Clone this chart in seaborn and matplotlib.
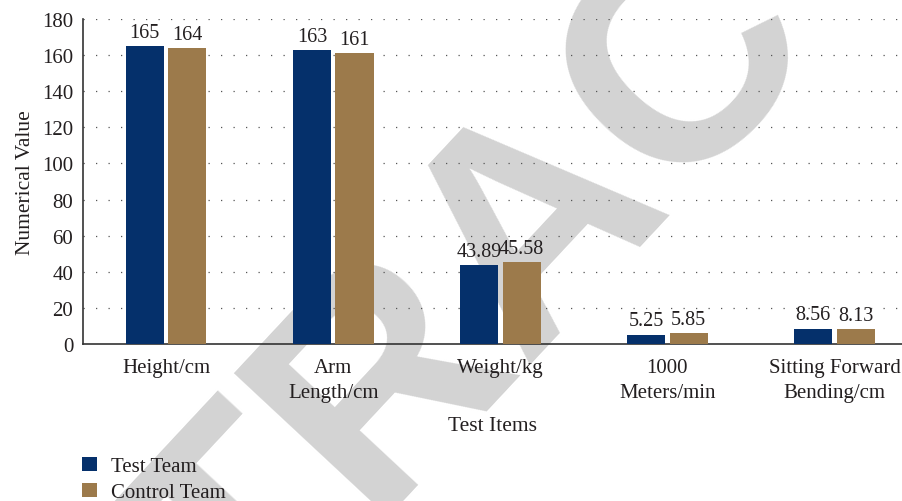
import numpy as np
import pandas as pd
import seaborn as sns
from matplotlib import pyplot as plt

# %% data
Items = ['Height/cm', 'Arm\nLength/cm', 'Weight/kg', '1000\nMeters/min',
         'Sitting Forward\nBending/cm']
TestTeam = [165, 163, 43.89, 5.25, 8.56]
ControlTeam = [164, 161, 45.58, 5.85, 8.13]
TestLabels = ['165', '163', '43.89', '5.25', '8.56']
ControlLabels = ['164', '161', '45.58', '5.85', '8.13']
Teams = ['Test Team', 'Control Team']
YTicks = [0, 20, 40, 60, 80, 100, 120, 140, 160, 180]

dfData = pd.DataFrame({'Item': Items * 2,
                       'Value': TestTeam + ControlTeam,
                       'Team': [Teams[0]] * len(Items) + [Teams[1]] * len(Items)})

# %% style
sns.set_style('white')
plt.rcParams['font.family'] = ['Liberation Serif', 'DejaVu Serif']
TextColor = '#231f20'
FontSize = 15

fig = plt.figure(figsize=(9.03, 5.02), dpi=100)
ax = fig.add_axes([0.0919, 0.3127, 0.9081, 0.6474])
ax.set_facecolor('none')

# watermark behind the chart
fig.text(0.595, 0.560, 'RETRACTED', family='Liberation Sans', fontsize=220,
         fontweight='bold', color='#d3d3d3', rotation=47, ha='center',
         va='center', rotation_mode='anchor', zorder=-1)

sns.barplot(data=dfData, x='Item', y='Value', hue='Team',
            palette=['#05306b', '#9c7a4b'], saturation=1, linewidth=0,
            width=0.51, gap=0.106, ax=ax, legend=True, zorder=3)

for cont, labs in zip(ax.containers, [TestLabels, ControlLabels]):
    ax.bar_label(cont, labels=labs, padding=3, fontsize=FontSize - 0.5,
                 color=TextColor)

ax.set_ylim(0, 180)
ax.set_yticks(YTicks)
ax.set_xlim(-0.497, 4.41)
for y in YTicks[1:]:
    ax.axhline(y, color='#555555', linewidth=0.9, linestyle=(0, (1, 9)), zorder=1)

ax.tick_params(axis='both', length=0, labelsize=FontSize, labelcolor=TextColor)
ax.tick_params(axis='x', pad=10)
ax.tick_params(axis='y', pad=7)
for lab in ax.get_xticklabels():
    lab.set_linespacing(1.45)
for side in ['top', 'right']:
    ax.spines[side].set_visible(False)
for side in ['left', 'bottom']:
    ax.spines[side].set_color('#333333')
    ax.spines[side].set_linewidth(1.2)

ax.set_xlabel('Test Items', fontsize=FontSize + 0.5, color=TextColor, labelpad=10)
ax.set_ylabel('Numerical Value', fontsize=FontSize + 0.5, color=TextColor, labelpad=5)

handles, labels = ax.get_legend_handles_labels()
ax.legend(handles, labels, loc='upper left', bbox_to_anchor=(0.091, 0.088),
          bbox_transform=fig.transFigure, frameon=False, fontsize=FontSize,
          handlelength=0.7, handleheight=0.7, handletextpad=0.7,
          labelspacing=0.3, borderaxespad=0, borderpad=0,
          labelcolor=TextColor)

fig.savefig('out.png', dpi=100)
